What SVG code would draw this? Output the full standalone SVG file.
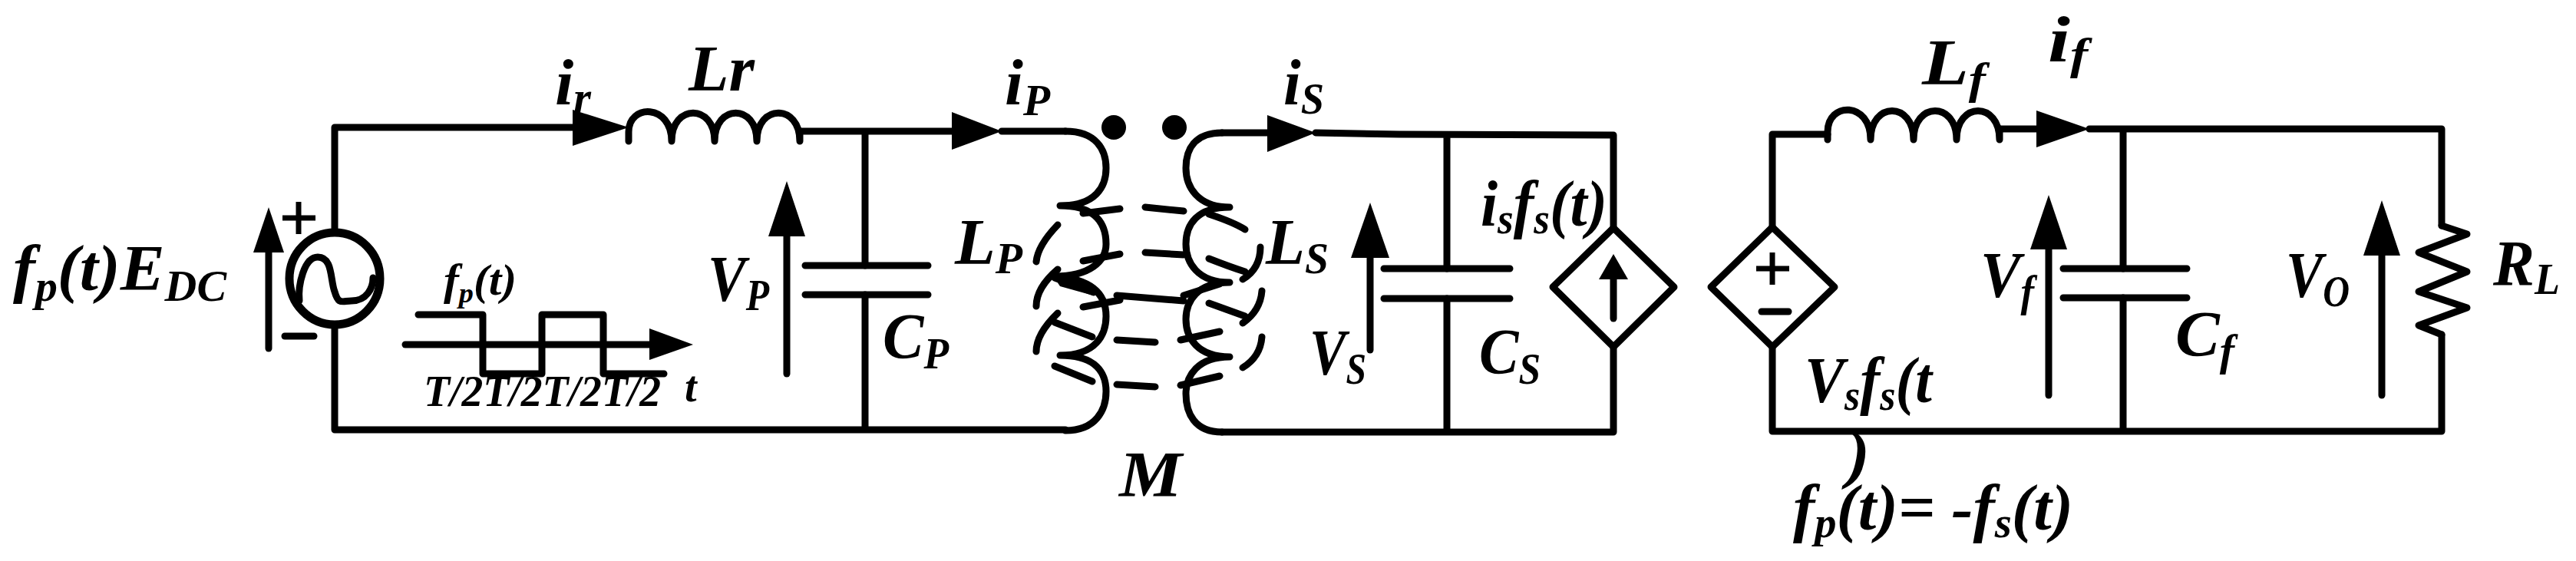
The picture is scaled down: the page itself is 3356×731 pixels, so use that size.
<svg xmlns="http://www.w3.org/2000/svg" width="3356" height="731" viewBox="0 0 3356 731">
<style>
.w{fill:none;stroke:#000;stroke-width:9;stroke-linecap:round;stroke-linejoin:round}
.d{fill:none;stroke:#000;stroke-width:9;stroke-linecap:round}
.h{fill:#000;stroke:none}
text{font-family:"Liberation Serif","Times New Roman",serif;font-style:italic;font-weight:bold;font-size:84px;fill:#000}
.s{font-size:56px}
.sm{font-size:56px}
</style>
<rect width="3356" height="731" fill="#fff"/>
<g id="connectors">
<path class="w" d="M436 302V166H746M1042 171H1240M1305 171H1388M1127 171V346M1127 384V560M436 424V560H1388"/>
<path class="w" d="M1592 173H1651M1714 173L1823 175L2102 176V297M2102 452V563H1592M1885 176V350M1885 389V563"/>
<path class="w" d="M2309 296V175H2381M2605 168H2653M2722 168H3181V294M3181 436V562H2309V452M2766 168V350M2766 388V562"/>
</g>
<g id="source">
<ellipse cx="436" cy="363" rx="59" ry="60" fill="none" stroke="#000" stroke-width="11"/>
<path class="w" d="M390 392C388 372 396 335 414 335C434 335 430 365 436 380C441 398 446 392 458 392C478 392 486 375 486 362"/>
<path fill="none" stroke="#000" stroke-width="7" d="M389 263V305M368 284H411"/>
<path class="w" d="M371 438H409"/>
<path class="w" d="M350 454V320"/><polygon class="h" points="350,270 370,329 330,329"/>
<text x="17" y="378" textLength="278" lengthAdjust="spacingAndGlyphs">f<tspan class="s" dy="14">p</tspan><tspan dy="-14">(t)E</tspan><tspan class="s" dy="14">DC</tspan></text>
</g>
<g id="waveform">
<path class="w" d="M545 410H629V487H706V410H786V487H865"/>
<path class="w" d="M528 449H850"/><polygon class="h" points="846,428 903,449 846,469"/>
<text class="sm" x="578" y="384" textLength="95" lengthAdjust="spacingAndGlyphs">f<tspan style="font-size:36px" dy="10">p</tspan><tspan dy="-10">(t)</tspan></text>
<text x="552" y="529" style="font-size:56px" textLength="309" lengthAdjust="spacingAndGlyphs">T/2T/2T/2T/2</text>
<text class="sm" x="892" y="523">t</text>
</g>
<g id="Lr">
<polygon class="h" points="746,143 819,166 746,190"/>
<path class="w" d="M819 184V172C819 135 875 135 875 184M875 184C875 135 931 135 931 184M931 184C931 135 986 135 986 184M986 184C986 135 1042 135 1042 184V171"/>
<text x="723" y="136" textLength="47" lengthAdjust="spacingAndGlyphs">i<tspan class="s" dy="10">r</tspan></text>
<text x="897" y="118" textLength="86" lengthAdjust="spacingAndGlyphs">Lr</text>
</g>
<g id="CP">
<path class="w" d="M1049 346H1209M1049 384H1209"/>
<path class="w" d="M1025 487V300"/><polygon class="h" points="1025,236 1049,308 1001,308"/>
<text x="922" y="392" textLength="80" lengthAdjust="spacingAndGlyphs">V<tspan class="s" dy="12">P</tspan></text>
<text x="1150" y="467" textLength="86" lengthAdjust="spacingAndGlyphs">C<tspan class="s" dy="13">P</tspan></text>
</g>
<g id="transformer">
<polygon class="h" points="1240,146 1305,171 1240,195"/>
<polygon class="h" points="1651,150 1714,173 1651,198"/>
<ellipse class="h" cx="1451" cy="166" rx="16" ry="16"/>
<ellipse class="h" cx="1530" cy="166" rx="16" ry="16"/>
<path class="w" d="M1388 171C1428 171 1441 195 1441 219C1441 243 1428 268 1381 268C1428 268 1441 292 1441 318C1441 340 1420 360 1374 360C1428 364 1441 388 1441 412C1441 436 1428 463 1381 463C1428 463 1441 486 1441 510C1441 534 1428 561 1388 561"/>
<path class="w" d="M1592 173C1556 173 1545 195 1545 219C1545 243 1560 270 1602 270C1560 270 1545 292 1545 318C1545 342 1560 368 1602 368C1560 368 1545 392 1545 416C1545 440 1560 465 1602 465C1560 465 1545 490 1545 513C1545 538 1556 563 1592 563"/>
<path class="d" d="M1411 278L1459 272M1492 270L1542 275M1575 279Q1608 290 1622 299M1378 293Q1352 320 1350 341M1411 340L1459 331M1492 329L1542 332M1575 337Q1603 348 1622 354M1642 322Q1642 350 1619 364M1378 351Q1350 375 1350 399M1374 362L1425 381M1455 385L1542 392M1542 385L1589 370M1411 400L1459 391M1575 395L1622 412M1644 379Q1642 405 1619 421M1378 408Q1350 435 1350 458M1374 420L1423 439M1455 443L1505 446M1538 443L1589 432M1644 439Q1642 465 1619 479M1374 477L1423 497M1455 501L1505 504M1538 502L1589 490"/>
<polygon class="h" points="1371,358 1408,368 1424,385 1381,373"/>
<text x="1309" y="136" textLength="59" lengthAdjust="spacingAndGlyphs">i<tspan class="s" dy="14">P</tspan></text>
<text x="1672" y="136" textLength="53" lengthAdjust="spacingAndGlyphs">i<tspan class="s" dy="12">S</tspan></text>
<text x="1244" y="344" textLength="88" lengthAdjust="spacingAndGlyphs">L<tspan class="s" dy="12">P</tspan></text>
<text x="1649" y="344" textLength="82" lengthAdjust="spacingAndGlyphs">L<tspan class="s" dy="12">S</tspan></text>
<text x="1458" y="647" textLength="82" lengthAdjust="spacingAndGlyphs">M</text>
</g>
<g id="CS">
<path class="w" d="M1803 350H1967M1803 389H1967"/>
<path class="w" d="M1785 456V330"/><polygon class="h" points="1785,264 1810,336 1760,336"/>
<text x="1706" y="488" textLength="74" lengthAdjust="spacingAndGlyphs">V<tspan class="s" dy="12">S</tspan></text>
<text x="1927" y="487" textLength="80" lengthAdjust="spacingAndGlyphs">C<tspan class="s" dy="13">S</tspan></text>
</g>
<g id="current-source">
<polygon class="w" points="2102,297 2181,374 2102,452 2023,374"/>
<path class="w" d="M2102 415V360"/><polygon class="h" points="2102,331 2121,364 2083,364"/>
<text x="1929" y="294" textLength="165" lengthAdjust="spacingAndGlyphs">i<tspan class="s" dy="10">s</tspan><tspan dy="-10">f</tspan><tspan class="s" dy="10">s</tspan><tspan dy="-10">(t)</tspan></text>
</g>
<g id="voltage-source">
<polygon class="w" points="2309,296 2390,374 2309,452 2229,374"/>
<path fill="none" stroke="#000" stroke-width="7" d="M2309 329V371M2288 350H2331"/>
<path class="w" d="M2295 406H2330"/>
<text x="2351" y="524" textLength="166" lengthAdjust="spacingAndGlyphs">V<tspan class="s" dy="10">s</tspan><tspan dy="-10">f</tspan><tspan class="s" dy="10">s</tspan><tspan dy="-10">(t</tspan></text>
<text x="2406" y="620" textLength="30" lengthAdjust="spacingAndGlyphs">)</text>
<text x="2336" y="690" textLength="365" lengthAdjust="spacingAndGlyphs">f<tspan class="s" dy="10">p</tspan><tspan dy="-10">(t)= -f</tspan><tspan class="s" dy="10">s</tspan><tspan dy="-10">(t)</tspan></text>
</g>
<g id="Lf">
<path class="w" d="M2381 182V172C2381 132 2437 132 2437 182M2437 182C2437 132 2493 132 2493 182M2493 182C2493 132 2549 132 2549 182M2549 182C2549 132 2605 132 2605 182V168"/>
<polygon class="h" points="2653,144 2722,168 2653,192"/>
<text x="2504" y="110" textLength="83" lengthAdjust="spacingAndGlyphs">L<tspan class="s" dy="12">f</tspan></text>
<text x="2668" y="80" textLength="52" lengthAdjust="spacingAndGlyphs">i<tspan class="s" dy="10">f</tspan></text>
</g>
<g id="Cf">
<path class="w" d="M2688 350H2849M2688 388H2849"/>
<path class="w" d="M2669 515V320"/><polygon class="h" points="2669,254 2693,325 2645,325"/>
<text x="2580" y="387" textLength="70" lengthAdjust="spacingAndGlyphs">V<tspan class="s" dy="12">f</tspan></text>
<text x="2834" y="464" textLength="77" lengthAdjust="spacingAndGlyphs">C<tspan class="s" dy="12">f</tspan></text>
</g>
<g id="RL">
<polyline class="w" points="3181,294 3214,305 3151,329 3214,354 3151,380 3214,401 3151,424 3181,436"/>
<path class="w" d="M3103 515V325"/><polygon class="h" points="3103,261 3127,333 3079,333"/>
<text x="2978" y="387" textLength="83" lengthAdjust="spacingAndGlyphs">V<tspan class="s" dy="12">O</tspan></text>
<text x="3248" y="372" textLength="87" lengthAdjust="spacingAndGlyphs">R<tspan class="s" dy="11">L</tspan></text>
</g>
</svg>
